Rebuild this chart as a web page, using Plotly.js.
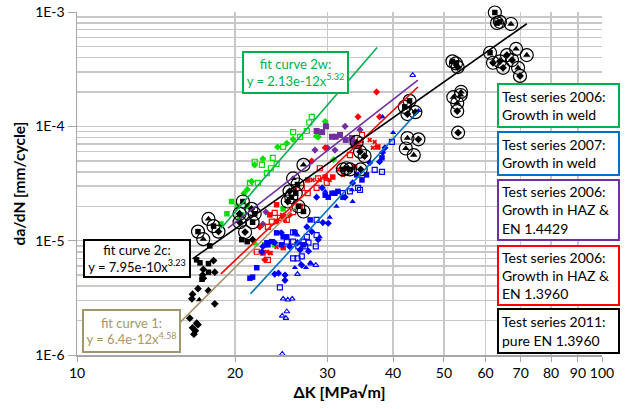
<!DOCTYPE html>
<html><head><meta charset="utf-8">
<script src="https://cdn.plot.ly/plotly-3.0.1.min.js"></script>
<style>html,body{margin:0;padding:0;background:#fff}#chart{width:632px;height:409px}</style>
</head><body><div id="chart"></div>
<script>
// Values: dK [MPa sqrt m], da/dN [mm/cycle]
const greenOpenSqK = [28.0,27.4,25.8,26.6,24.7,23.6,24.0,23.4,21.8,22.5,21.35,22.1,23.0,27.7];
const greenOpenSqR = [1.21e-4,9.1e-5,8.9e-5,8.1e-5,6.6e-5,5.3e-5,4.7e-5,4.3e-5,4.9e-5,4.6e-5,3.2e-5,3.2e-5,3.9e-5,1.08e-4];
const greenDiaK = [28.6,25.8,25.1,24.1,22.6,21.8,21.5,21.1,20.8,29.7,28.8,30.8];
const greenDiaR = [8.2e-5,7.7e-5,7.1e-5,6.6e-5,5.2e-5,4.6e-5,3.3e-5,2.8e-5,2.6e-5,1.1e-4,8.1e-5,5.1e-5];
const greenSqK = [19.7,20.2,18.8,20.6,21.1,19.3,20.4,22.8,23.8,24.7];
const greenSqR = [2.2e-5,2.0e-5,1.40e-5,1.68e-5,2.0e-5,1.72e-5,1.58e-5,9.2e-6,9.2e-6,1.9e-5];
const greenTriK = [21.9];
const greenTriR = [9.4e-6];

const purpleSqK = [28.6,29.8,29.3,30.6,31.1,31.7,32.5,33.4,33.5,33.8];
const purpleSqR = [9.1e-5,1.0e-4,8.9e-5,8.1e-5,8.1e-5,8.4e-5,7.6e-5,7.9e-5,7.3e-5,6.7e-5];
const purpleDiaK = [32.4,34.6,28.4,30.0,31.0,22.9,22.6];
const purpleDiaR = [1.0e-4,9.3e-5,6.2e-5,6.5e-5,6.2e-5,1.78e-5,1.40e-5];

const redDiaK = [37.2,34.3,37.7,29.7,28.0,22.3,25.4,22.8];
const redDiaR = [2.0e-4,1.21e-4,1.21e-4,6.5e-5,4.97e-5,1.32e-5,1.68e-5,6.8e-6];
const redSqK = [37.4,33.8,30.7,24.0,24.7,23.3,24.0,29.7,26.6,27.5,22.6,24.7];
const redSqR = [6.6e-5,4.4e-5,3.6e-5,2.06e-5,1.62e-5,1.68e-5,1.47e-5,3.6e-5,2.0e-5,3.4e-5,7.8e-6,8.7e-6];
const redOpenSqK = [34.9,34.6,28.8,29.9,29.0,33.1,23.8,24.35,25.1,23.5,23.1,22.0,23.1,26.8,27.5,28.6,25.8];
const redOpenSqR = [8.4e-5,7.6e-5,3.5e-5,3.2e-5,4.3e-5,5.6e-5,1.75e-5,1.58e-5,1.52e-5,1.47e-5,1.32e-5,8.0e-6,6.8e-6,2.9e-5,2.6e-5,2.9e-5,1.78e-5];
const redXK = [36.1,36.9,36.6,34.6,31.4,32.1,28.1,26.0,24.6,24.9,23.4,23.0,29.0,30.3,24.0,23.3];
const redXR = [7.6e-5,7.3e-5,6.5e-5,6.6e-5,4.2e-5,3.76e-5,3.4e-5,2.78e-5,1.68e-5,1.52e-5,7.8e-6,8.0e-6,3.4e-5,3.4e-5,8.8e-6,7.8e-6];

const blueSqK = [21.6,21.35,22.0,23.5,24.0,24.5,25.1,23.0,23.1,24.7,27.0,26.0,27.8,31.4,31.0,32.1,30.1,29.7,30.6,35.6,34.1,34.9,38.1];
const blueSqR = [4.8e-6,4.7e-6,5.8e-6,9.8e-6,1.17e-5,9.2e-6,1.08e-5,9.6e-6,9.2e-6,1.08e-5,9.2e-6,1.18e-5,1.52e-5,2.7e-5,2.6e-5,2.4e-5,2.4e-5,2.5e-5,2.6e-5,3.76e-5,3.76e-5,3.4e-5,5.3e-5];
const blueOpenSqK = [39.8,36.9,38.1,34.3,33.1,34.6,28.6,28.6,27.4,25.1,25.8,27.0,27.6,26.4,27.2,28.5,26.8,25.8,26.3,24.35,32.1,25.8];
const blueOpenSqR = [7.3e-5,4.16e-5,4.0e-5,2.9e-5,2.7e-5,2.78e-5,1.52e-5,1.12e-5,1.08e-5,9.8e-6,9.8e-6,9.8e-6,9.6e-6,8.9e-6,8.9e-6,8.9e-6,7.3e-6,7.0e-6,7.0e-6,3.9e-6,2.6e-5,1.18e-5];
const blueDiaK = [38.6,38.2,37.7,36.1,33.5,28.6,32.4,30.1,29.4,27.4,28.0,28.8,26.3,25.4,26.6,27.6,24.5,24.2,24.9,26.8,22.6,22.5,23.8,23.8,29.3,24.9];
const blueDiaR = [6.5e-5,5.9e-5,4.9e-5,4.8e-5,3.2e-5,2.4e-5,2.4e-5,1.42e-5,1.44e-5,1.32e-5,1.20e-5,1.02e-5,9.6e-6,8.9e-6,8.3e-6,8.1e-6,1.17e-5,5.2e-6,5.0e-6,6.1e-6,8.9e-6,8.0e-6,9.6e-6,5.1e-6,2.9e-5,4.5e-6];
const blueTriK = [44.7,38.2,40.0,33.4,31.2,33.5,30.3,29.0,26.3,26.7,27.3,26.0,27.8,29.7];
const blueTriR = [1.37e-4,1.21e-4,8.8e-5,2.78e-5,2.0e-5,2.2e-5,1.6e-5,1.08e-5,1.12e-5,6.3e-6,5.8e-6,5.8e-6,6.4e-6,2.7e-5];
const blueOpenTriK = [43.6,27.9,28.5,26.3,25.7,25.2,25.1,25.0,24.7,24.6,24.6];
const blueOpenTriR = [2.8e-4,6.3e-6,6.1e-6,5.1e-6,3.1e-6,3.04e-6,2.4e-6,2.1e-6,3.1e-6,2.2e-6,1.02e-6];

const blackDiaK = [18.2,17.4,18.3,17.35,17.4,17.0,17.8,16.6,16.55,18.3,16.4,16.9,16.6,16.7,17.0,16.8,21.6];
const blackDiaR = [6.7e-6,5.6e-6,5.3e-6,5.0e-6,4.7e-6,3.8e-6,3.65e-6,3.4e-6,3.1e-6,2.8e-6,2.1e-6,1.9e-6,1.73e-6,1.52e-6,1.84e-6,1.63e-6,1.02e-5];
const blackSqK = [17.9,16.9,17.15,17.8,17.8,17.3,20.6,21.1];
const blackSqR = [9.0e-6,6.8e-6,6.4e-6,6.3e-6,5.3e-6,4.6e-6,1.02e-5,9.8e-6];
const blackTriK = [17.1];
const blackTriR = [3.04e-6];
const blackCircSqK = [18.2,17.0,20.7,21.6,21.8,26.3,26.1,25.6,26.4,27.0,32.1,32.6,33.1,43.0,42.1,51.9,52.7,62.5,63.1,63.9,61.2];
const blackCircSqR = [1.34e-5,1.20e-5,2.2e-5,1.45e-5,1.72e-5,3.1e-5,2.6e-5,2.4e-5,2.0e-5,1.8e-5,4.2e-5,4.3e-5,4.2e-5,1.67e-4,1.48e-4,3.7e-4,3.55e-4,9.9e-4,8.0e-4,8.2e-4,4.4e-4];
const blackCircDiaK = [18.6,21.5,20.4,20.9,20.4,25.4,25.2,34.6,35.3,34.7,44.1,42.6,44.7,53.1,53.0,53.2,65.9,62.0,63.9,64.8,67.4,69.8];
const blackCircDiaR = [1.20e-5,1.9e-5,1.45e-5,1.19e-5,1.72e-5,2.7e-5,2.2e-5,6.0e-5,5.5e-5,4.2e-5,1.33e-4,1.28e-4,7.7e-5,3.3e-4,1.36e-4,8.8e-5,4.2e-4,3.6e-4,3.7e-4,3.25e-4,3.8e-4,2.76e-4];
const blackCircTriK = [17.8,17.4,27.0,25.8,34.1,42.6,42.3,43.8,53.9,53.8,52.1,53.0,67.1,68.6,71.9,69.2];
const blackCircTriR = [1.55e-5,1.03e-5,4.6e-5,3.5e-5,7.3e-5,7.9e-5,6.4e-5,5.6e-5,2.0e-4,1.88e-4,1.80e-4,1.6e-4,7.85e-4,4.75e-4,4.2e-4,3.25e-4];

// fit line end points
const fitGreenK = [18.8, 37.3];   const fitGreenR = [1.28e-5, 4.9e-4];
const fitBlackK = [16.6, 71.9];   const fitBlackR = [6.94e-6, 7.89e-4];
const fitTanK = [15.7, 26.0];     const fitTanR = [1.92e-6, 1.94e-5];
const fitRedK = [18.8, 44.6];     const fitRedR = [5.13e-6, 2.21e-4];
const fitPurpleK = [19.4, 44.6];  const fitPurpleR = [1.29e-5, 2.54e-4];
const fitBlueK = [21.4, 44.6];    const fitBlueR = [3.43e-6, 1.34e-4];

const xTickVals = [10,20,30,40,50,60,70,80,90,100];
const xTickText = ['10','20','30','40','50','60','70','80','90','100'];
const yTickVals = [1e-6,1e-5,1e-4,1e-3];
const yTickText = ['1E-6','1E-5','1E-4','1E-3'];
const yMinorVals = [];
[1e-6,1e-5,1e-4].forEach(d => { for (let m = 2; m <= 9; m++) yMinorVals.push(d*m); });

const C = {green:'#00e000', greenLine:'#00b050', purple:'#7030a0', red:'#ff0000',
           blue:'#0000ff', blueLine:'#0070c0', tan:'#a4966c', black:'#000000'};
const FONT = 'Lato, "Open Sans", sans-serif';

function pts(k, r, color, symbol, size, lw) {
  return {x:k, y:r, type:'scatter', mode:'markers', hoverinfo:'skip', cliponaxis:false,
    marker:{color:color, symbol:symbol, size:size, line:{width:lw||0, color:color}}};
}
function fit(k, r, color) {
  return {x:k, y:r, type:'scatter', mode:'lines', hoverinfo:'skip',
    line:{color:color, width:1.6}};
}

const allCircK = blackCircSqK.concat(blackCircDiaK, blackCircTriK);
const allCircR = blackCircSqR.concat(blackCircDiaR, blackCircTriR);

const data = [
  pts(greenOpenSqK, greenOpenSqR, C.green, 'square-open', 5, 1.2),
  pts(greenDiaK, greenDiaR, C.green, 'diamond', 5.5),
  pts(greenSqK, greenSqR, C.green, 'square', 5.5),
  pts(greenTriK, greenTriR, C.green, 'triangle-up', 6),
  pts(purpleSqK, purpleSqR, C.purple, 'square', 6),
  pts(purpleDiaK, purpleDiaR, C.purple, 'diamond', 5.5),
  pts(redDiaK, redDiaR, C.red, 'diamond', 5.5),
  pts(redSqK, redSqR, C.red, 'square', 5.5),
  pts(redOpenSqK, redOpenSqR, C.red, 'square-open', 5, 1.2),
  pts(redXK, redXR, C.red, 'x', 4.5),
  pts(blueSqK, blueSqR, C.blue, 'square', 5.5),
  pts(blueOpenSqK, blueOpenSqR, C.blue, 'square-open', 5, 1.2),
  pts(blueDiaK, blueDiaR, C.blue, 'diamond', 5.5),
  pts(blueTriK, blueTriR, C.blue, 'triangle-up', 5.5),
  pts(blueOpenTriK, blueOpenTriR, C.blue, 'triangle-up-open', 5, 1.1),
  pts(blackDiaK, blackDiaR, C.black, 'diamond', 6),
  pts(blackSqK, blackSqR, C.black, 'square', 5.5),
  pts(blackTriK, blackTriR, C.black, 'triangle-up', 6),
  pts(allCircK, allCircR, 'rgba(255,255,255,0)', 'circle', 13, 1.2),
  pts(blackCircSqK, blackCircSqR, C.black, 'square', 5.5),
  pts(blackCircDiaK, blackCircDiaR, C.black, 'diamond', 6),
  pts(blackCircTriK, blackCircTriR, C.black, 'triangle-up', 6.5),
  fit(fitTanK, fitTanR, C.tan),
  fit(fitBlueK, fitBlueR, C.blueLine),
  fit(fitRedK, fitRedR, C.red),
  fit(fitPurpleK, fitPurpleR, C.purple),
  fit(fitBlackK, fitBlackR, C.black),
  fit(fitGreenK, fitGreenR, C.greenLine)
];
data[18].marker.line.color = '#000';

// pixel -> paper helpers for box placement
const L = 77, R = 602, T = 12, B = 355;
const px = v => (v - L) / (R - L);
const py = v => (B - v) / (B - T);

function box(text, left, top, w, h, border, color, align, size, pad) {
  const p = (pad === undefined) ? 3 : pad;
  return {xref:'paper', yref:'paper', x:px(left), y:py(top), xanchor:'left', yanchor:'top',
    text:text, showarrow:false, align:align, valign:'middle', width:w - 2*(p+2), height:h - 2*(p+2),
    bordercolor:border, borderwidth:2, borderpad:p, bgcolor:'#ffffff',
    font:{family:FONT, size:size || 14, color:color}};
}

const annotations = [
  box('fit curve 2w:<br>y = 2.13e-12x<sup>5.32</sup>', 242, 51, 107, 43, C.greenLine, C.greenLine, 'center', 13, 1),
  box('fit curve 2c:<br>y = 7.95e-10x<sup>3.23</sup>', 83, 239, 108, 39, '#000', '#000', 'center', 13, 1),
  box('fit curve 1:<br>y = 6.4e-12x<sup>4.58</sup>', 82, 309, 99, 44, C.tan, C.tan, 'center', 13, 1),
  box('Test series 2006:<br>Growth in weld', 497, 83, 123, 45, C.greenLine, '#000', 'left'),
  box('Test series 2007:<br>Growth in weld', 497, 131, 123, 45, C.blueLine, '#000', 'left'),
  box('Test series 2006:<br>Growth in HAZ &amp;<br>EN 1.4429', 497, 179, 123, 62, C.purple, '#000', 'left'),
  box('Test series 2006:<br>Growth in HAZ &amp;<br>EN 1.3960', 497, 245, 123, 61, C.red, '#000', 'left'),
  box('Test series 2011:<br>pure EN 1.3960', 497, 308, 123, 46, '#000', '#000', 'left')
];

const layout = {
  width:632, height:409, margin:{l:77, r:30, t:12, b:54},
  paper_bgcolor:'#fff', plot_bgcolor:'#fff', showlegend:false,
  font:{family:FONT, size:14, color:'#000'},
  xaxis:{type:'log', range:[1,2], tickmode:'array', tickvals:xTickVals, ticktext:xTickText,
    showgrid:true, gridcolor:'#c8c8c8', gridwidth:1.5, zeroline:false,
    showline:true, linecolor:'#a6a6a6', linewidth:1.5, ticks:'outside', ticklen:5, tickcolor:'#a6a6a6',
    tickfont:{size:14}, title:{text:'<b>ΔK [MPa√m]</b>', font:{size:16}, standoff:6}},
  yaxis:{type:'log', range:[-6,-3], tickmode:'array', tickvals:yTickVals, ticktext:yTickText,
    showgrid:true, gridcolor:'#c8c8c8', gridwidth:1.5, zeroline:false,
    showline:true, linecolor:'#a6a6a6', linewidth:1.5, ticks:'outside', ticklen:8, tickcolor:'#a6a6a6',
    tickfont:{size:14},
    minor:{tickmode:'array', tickvals:yMinorVals, showgrid:true, gridcolor:'#c8c8c8', gridwidth:1.5, ticks:''},
    title:{text:'<b>da/dN [mm/cycle]</b>', font:{size:15.5}, standoff:5}},
  annotations:annotations
};

Plotly.newPlot('chart', data, layout, {staticPlot:true, displayModeBar:false});
</script></body></html>
